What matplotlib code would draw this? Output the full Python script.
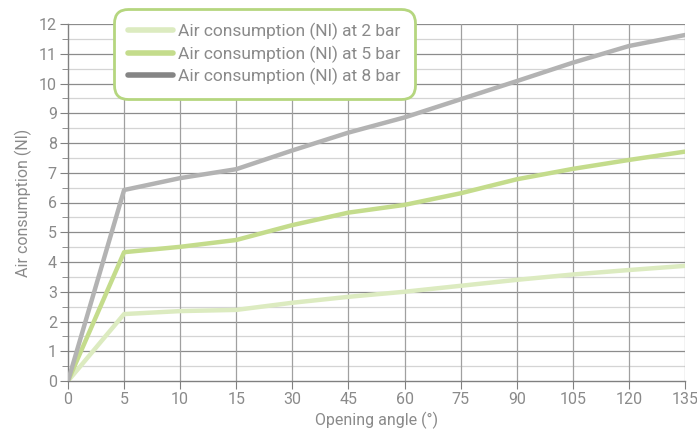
import matplotlib.pyplot as plt
from matplotlib.lines import Line2D
import numpy as np

# Opening angle categories (equally spaced on the chart)
angles = ["0", "5", "10", "15", "30", "45", "60", "75", "90", "105", "120", "135"]
bar2 = [0, 2.25, 2.35, 2.39, 2.63, 2.83, 3.0, 3.2, 3.4, 3.58, 3.73, 3.87]
bar5 = [0, 4.33, 4.51, 4.74, 5.24, 5.66, 5.92, 6.31, 6.78, 7.13, 7.43, 7.71]
bar8 = [0, 6.42, 6.82, 7.12, 7.75, 8.35, 8.86, 9.47, 10.08, 10.70, 11.26, 11.63]
labels = ["Air consumption (Nl) at 2 bar", "Air consumption (Nl) at 5 bar",
          "Air consumption (Nl) at 8 bar"]

plt.rcParams['font.family'] = ['Roboto', 'DejaVu Sans']
txt = "#8a8a8a"

fig = plt.figure(figsize=(6.97, 4.32), dpi=100)
ax = fig.add_axes([68 / 697, 51 / 432, 617 / 697, 357 / 432])

x = np.arange(len(angles))
ax.plot(x, bar2, color="#dcebc0", lw=3.2, solid_capstyle="round", zorder=3)
ax.plot(x, bar5, color="#c4dc8c", lw=3.2, solid_capstyle="round", zorder=3)
ax.plot(x, bar8, color="#b3b3b3", lw=3.2, solid_capstyle="round", zorder=3)

ax.set_xlim(0, len(angles) - 1)
ax.set_ylim(0, 12)
ax.set_xticks(x)
ax.set_xticklabels(angles)
ax.set_yticks(range(13))
ax.set_yticks(np.arange(0.5, 12, 1), minor=True)

for yv in range(1, 13):
    ax.axhline(yv, color="#8c8c8c", lw=0.9, zorder=1)
for yv in np.arange(0.5, 12, 1):
    ax.axhline(yv, color="#d4d4d4", lw=0.9, zorder=1)
for xv in x[1:]:
    ax.axvline(xv, color="#a0a0a0", lw=0.9, zorder=1)

for s in ["top", "right"]:
    ax.spines[s].set_visible(False)
for s in ["left", "bottom"]:
    ax.spines[s].set_color("#808080")
    ax.spines[s].set_linewidth(1.0)

ax.tick_params(axis="both", which="both", colors="#808080", labelcolor=txt,
               labelsize=11.5, direction="out")
ax.tick_params(axis="y", which="major", length=6, pad=2)
ax.tick_params(axis="y", which="minor", length=4)
ax.tick_params(axis="x", length=6, pad=2)

ax.set_xlabel("Opening angle (°)", color=txt, fontsize=11.5, labelpad=3)
ax.set_ylabel("Air consumption (Nl)", color=txt, fontsize=11.5, labelpad=5)

handles = [Line2D([], [], color="#dcebc0", lw=4, solid_capstyle="round"),
           Line2D([], [], color="#c4dc8c", lw=4, solid_capstyle="round"),
           Line2D([], [], color="#858585", lw=4, solid_capstyle="round")]
leg = ax.legend(handles, labels, loc="upper left", bbox_to_anchor=(39 / 617, 1 + 22 / 357),
                fontsize=12.5, frameon=True, fancybox=True, handlelength=2.6,
                handletextpad=0.3, labelspacing=0.3, borderpad=0.7, framealpha=1)
leg.get_frame().set_edgecolor("#b5d67f")
leg.get_frame().set_linewidth(2)
leg.get_frame().set_boxstyle("round,pad=0.1,rounding_size=0.8")
for t in leg.get_texts():
    t.set_color(txt)
leg.set_zorder(5)

fig.savefig("out.png", dpi=100)
